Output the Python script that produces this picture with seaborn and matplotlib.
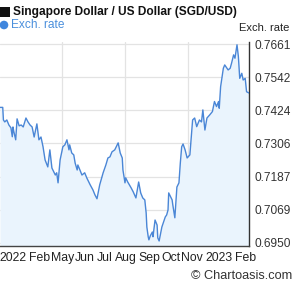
import numpy as np
import pandas as pd
import matplotlib
matplotlib.use("Agg")
import matplotlib.pyplot as plt
import seaborn as sns
from matplotlib.patches import Rectangle, Circle

# ---- data ----
days = [0, 4, 5, 7, 10, 13, 16, 18, 19, 20, 23, 25, 28, 31, 34, 38, 41, 44, 47, 50,
        54, 57, 60, 63, 66, 69, 70, 73, 75, 76, 81, 83, 85, 88, 92, 95, 98, 101, 102, 105,
        108, 110, 113, 114, 117, 120, 124, 127, 132, 136, 139, 142, 146, 151, 155, 158, 161, 164, 168, 173,
        176, 179, 180, 183, 184, 187, 192, 195, 199, 203, 206, 209, 212, 214, 215, 217, 218, 220, 223, 224,
        227, 230, 231, 233, 237, 242, 244, 246, 247, 252, 253, 256, 259, 262, 264, 266, 268, 271, 274, 278,
        282, 285, 288, 292, 295, 297, 300, 303, 307, 311, 314, 317, 320, 321, 323, 327, 329, 334, 337, 339,
        342, 344, 347, 349, 351, 354, 356, 359, 361, 365]
rates = [0.7435, 0.7435, 0.7390, 0.7383, 0.7390, 0.7372, 0.7362, 0.7330, 0.7365, 0.7351,
         0.7319, 0.7394, 0.7369, 0.7372, 0.7365, 0.7397, 0.7383, 0.7372, 0.7365, 0.7329,
         0.7376, 0.7319, 0.7329, 0.7294, 0.7247, 0.7229, 0.7222, 0.7283, 0.7240, 0.7218,
         0.7193, 0.7201, 0.7165, 0.7247, 0.7294, 0.7301, 0.7319, 0.7283, 0.7301, 0.7272,
         0.7265, 0.7236, 0.7211, 0.7229, 0.7211, 0.7193, 0.7201, 0.7183, 0.7158, 0.7140,
         0.7122, 0.7108, 0.7158, 0.7201, 0.7229, 0.7254, 0.7258, 0.7276, 0.7283, 0.7308,
         0.7272, 0.7254, 0.7211, 0.7165, 0.7183, 0.7168, 0.7147, 0.7133, 0.7111, 0.7168,
         0.7129, 0.7111, 0.7104, 0.7057, 0.7007, 0.6972, 0.6961, 0.6975, 0.6989, 0.6972,
         0.7032, 0.7014, 0.6968, 0.6957, 0.7007, 0.7043, 0.7050, 0.7068, 0.7129, 0.7104,
         0.7086, 0.7040, 0.7150, 0.7165, 0.7236, 0.7294, 0.7304, 0.7283, 0.7254, 0.7265,
         0.7390, 0.7397, 0.7366, 0.7390, 0.7383, 0.7426, 0.7354, 0.7397, 0.7408, 0.7420,
         0.7456, 0.7438, 0.7456, 0.7432, 0.7509, 0.7575, 0.7587, 0.7569, 0.7575, 0.7593,
         0.7623, 0.7611, 0.7659, 0.7617, 0.7539, 0.7557, 0.7533, 0.7539, 0.7491, 0.7486]

x_tick_days = [19, 58, 92, 124, 154, 184, 218, 250, 281, 321, 359]
x_tick_labels = ["2022", "Feb", "May", "Jun", "Jul", "Aug", "Sep", "Oct", "Nov", "2023", "Feb"]
grid_days = [91, 183, 275]
y_ticks = [0.6950, 0.7069, 0.7187, 0.7306, 0.7424, 0.7542, 0.7661]
y_tick_labels = ["0.6950", "0.7069", "0.7187", "0.7306", "0.7424", "0.7542", "0.7661"]
y_min, y_max = 0.6939, 0.7669

title = "Singapore Dollar / US Dollar (SGD/USD)"
series_name = "Exch. rate"
axis_title = "Exch. rate"
credit = "\u00a9 Chartoasis.com"

LINE = "#4a86d6"
FILL = "#eaf4fd"

sns.set_theme(style="white")
plt.rcParams['font.family'] = ['Liberation Sans', 'DejaVu Sans']

W, H = 295, 288
fig = plt.figure(figsize=(W / 100, H / 100), dpi=100)
ax = fig.add_axes([0, 42 / H, 249.3 / W, 204 / H])

df = pd.DataFrame({"day": days, "rate": rates})
ax.fill_between(df["day"], df["rate"], y_min, color=FILL, lw=0, zorder=1)
sns.lineplot(data=df, x="day", y="rate", ax=ax, color=LINE, lw=1.0, zorder=3)

ax.set_xlim(0, 365)
ax.set_ylim(y_min, y_max)
ax.set_xlabel("")
ax.set_ylabel("")

ax.yaxis.tick_right()
ax.set_yticks(y_ticks)
ax.set_yticklabels(y_tick_labels)
ax.set_xticks(x_tick_days)
ax.set_xticklabels(x_tick_labels)
ax.set_xticks(grid_days, minor=True)
ax.tick_params(axis="y", which="both", length=0, pad=4, labelsize=8.6, colors="#333333")
ax.tick_params(axis="x", which="both", length=0, pad=4, labelsize=8.8, colors="#222222")

ax.grid(False)
ax.yaxis.grid(True, color="#e3e3e3", lw=0.9, zorder=0)
ax.xaxis.grid(True, which="minor", color="#e3e3e3", lw=0.9, zorder=0)
ax.set_axisbelow(True)

for s in ["top", "left"]:
    ax.spines[s].set_visible(False)
ax.spines["right"].set_color("#333333")
ax.spines["right"].set_linewidth(1.0)
ax.spines["bottom"].set_color("#444444")
ax.spines["bottom"].set_linewidth(1.0)
ax.patch.set_alpha(0)

# overlay in pixel coordinates for header / footer
ov = fig.add_axes([0, 0, 1, 1], zorder=-1)
ov.set_xlim(0, W)
ov.set_ylim(H, 0)
ov.axis("off")
ov.add_patch(Rectangle((0, 7), 10, 9.5, color="#111111", lw=0))
ov.text(13, 12, title, fontsize=8.6, fontweight="bold", color="#111111", va="center", ha="left")
ov.add_patch(Circle((4, 25), 4.3, color="#3f86dd", lw=0))
ov.text(11, 25.5, series_name, fontsize=8.6, color="#4a8fdc", va="center", ha="left")
ov.text(239, 28, axis_title, fontsize=8.0, color="#222222", va="center", ha="left")
ov.text(292, 276, credit, fontsize=9.2, color="#333333", va="center", ha="right")

fig.savefig("out.png", dpi=100)
